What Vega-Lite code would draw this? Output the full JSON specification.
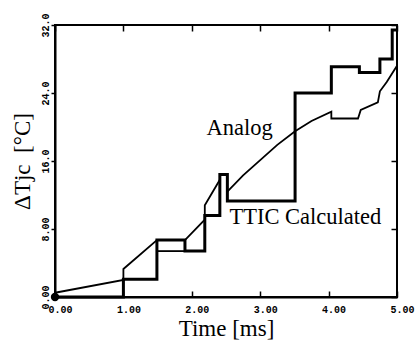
{
  "$schema": "https://vega.github.io/schema/vega-lite/v6.json",
  "width": 342,
  "height": 272,
  "autosize": "none",
  "padding": {"left": 55, "top": 25, "right": 19, "bottom": 51},
  "background": "white",
  "config": {
    "view": {"stroke": "black", "strokeWidth": 2},
    "axis": {
      "domainColor": "black", "domainWidth": 2, "tickColor": "black", "tickWidth": 1.5,
      "grid": false, "labelFont": "Liberation Mono", "labelFontWeight": "bold", "labelFontSize": 10,
      "labelColor": "black", "titleFont": "Liberation Serif", "titleFontWeight": "normal",
      "titleFontSize": 23, "titleColor": "black"
    }
  },
  "datasets": {
    "lines": [
      {"s": "TTIC", "seg": 1, "i": 1, "t": 0, "v": 0},
      {"s": "TTIC", "seg": 1, "i": 2, "t": 1.0, "v": 0},
      {"s": "TTIC", "seg": 1, "i": 3, "t": 1.0, "v": 2.1},
      {"s": "TTIC", "seg": 1, "i": 4, "t": 1.49, "v": 2.1},
      {"s": "TTIC", "seg": 1, "i": 5, "t": 1.49, "v": 6.7},
      {"s": "TTIC", "seg": 1, "i": 6, "t": 1.9, "v": 6.7},
      {"s": "TTIC", "seg": 1, "i": 7, "t": 1.9, "v": 5.4},
      {"s": "TTIC", "seg": 1, "i": 8, "t": 2.19, "v": 5.4},
      {"s": "TTIC", "seg": 1, "i": 9, "t": 2.19, "v": 9.6},
      {"s": "TTIC", "seg": 1, "i": 10, "t": 2.41, "v": 9.6},
      {"s": "TTIC", "seg": 1, "i": 11, "t": 2.41, "v": 14.4},
      {"s": "TTIC", "seg": 1, "i": 12, "t": 2.52, "v": 14.4},
      {"s": "TTIC", "seg": 1, "i": 13, "t": 2.52, "v": 11.3},
      {"s": "TTIC", "seg": 1, "i": 14, "t": 3.51, "v": 11.3},
      {"s": "TTIC", "seg": 1, "i": 15, "t": 3.51, "v": 24.0},
      {"s": "TTIC", "seg": 1, "i": 16, "t": 4.04, "v": 24.0},
      {"s": "TTIC", "seg": 1, "i": 17, "t": 4.04, "v": 27.1},
      {"s": "TTIC", "seg": 1, "i": 18, "t": 4.45, "v": 27.1},
      {"s": "TTIC", "seg": 1, "i": 19, "t": 4.45, "v": 26.4},
      {"s": "TTIC", "seg": 1, "i": 20, "t": 4.75, "v": 26.4},
      {"s": "TTIC", "seg": 1, "i": 21, "t": 4.75, "v": 28.0},
      {"s": "TTIC", "seg": 1, "i": 22, "t": 4.93, "v": 28.0},
      {"s": "TTIC", "seg": 1, "i": 23, "t": 4.93, "v": 31.4},
      {"s": "TTIC", "seg": 1, "i": 24, "t": 5.0, "v": 31.4},
      {"s": "Analog", "seg": 1, "i": 1, "t": 0, "v": 0.5},
      {"s": "Analog", "seg": 1, "i": 2, "t": 1.0, "v": 2.0},
      {"s": "Analog", "seg": 1, "i": 3, "t": 1.0, "v": 3.3},
      {"s": "Analog", "seg": 1, "i": 4, "t": 1.49, "v": 6.7},
      {"s": "Analog", "seg": 1, "i": 5, "t": 1.9, "v": 6.7},
      {"s": "Analog", "seg": 1, "i": 6, "t": 2.19, "v": 9.1},
      {"s": "Analog", "seg": 1, "i": 7, "t": 2.19, "v": 10.8},
      {"s": "Analog", "seg": 1, "i": 8, "t": 2.41, "v": 13.8},
      {"s": "Analog", "seg": 2, "i": 1, "t": 1.49, "v": 5.4},
      {"s": "Analog", "seg": 2, "i": 2, "t": 1.9, "v": 5.4},
      {"s": "Analog", "seg": 3, "i": 1, "t": 2.52, "v": 12.4},
      {"s": "Analog", "seg": 3, "i": 2, "t": 2.75, "v": 14.3},
      {"s": "Analog", "seg": 3, "i": 3, "t": 3.0, "v": 16.1},
      {"s": "Analog", "seg": 3, "i": 4, "t": 3.25, "v": 17.9},
      {"s": "Analog", "seg": 3, "i": 5, "t": 3.51, "v": 19.5},
      {"s": "Analog", "seg": 3, "i": 6, "t": 3.75, "v": 20.7},
      {"s": "Analog", "seg": 3, "i": 7, "t": 4.04, "v": 21.8},
      {"s": "Analog", "seg": 3, "i": 8, "t": 4.04, "v": 21.0},
      {"s": "Analog", "seg": 3, "i": 9, "t": 4.43, "v": 21.0},
      {"s": "Analog", "seg": 3, "i": 10, "t": 4.47, "v": 22.0},
      {"s": "Analog", "seg": 3, "i": 11, "t": 4.72, "v": 22.9},
      {"s": "Analog", "seg": 3, "i": 12, "t": 4.75, "v": 24.2},
      {"s": "Analog", "seg": 3, "i": 13, "t": 4.85, "v": 25.3},
      {"s": "Analog", "seg": 3, "i": 14, "t": 5.0, "v": 27.2}
    ],
    "labels": [
      {"t": 2.7, "v": 19.9, "label": "Analog"},
      {"t": 3.66, "v": 9.4, "label": "TTIC Calculated"}
    ],
    "origin": [{"t": 0, "v": 0}]
  },
  "resolve": {"axis": {"x": "independent", "y": "independent"}},
  "layer": [
    {
      "data": {"name": "lines"},
      "transform": [{"filter": "datum.s == 'TTIC'"}],
      "mark": {"type": "line", "color": "black", "strokeWidth": 3, "strokeJoin": "miter", "clip": false},
      "encoding": {
        "x": {"field": "t", "type": "quantitative", "scale": {"domain": [0, 5], "nice": false},
          "axis": {"orient": "bottom", "title": "Time [ms]", "values": [0, 1, 2, 3, 4, 5], "format": ".2f",
            "tickSize": -6, "labelPadding": 13, "labelFlush": false, "labelOffset": 5, "titlePadding": 3}},
        "y": {"field": "v", "type": "quantitative", "scale": {"domain": [0, 32], "nice": false, "zero": true},
          "axis": {"orient": "left", "title": "ΔTjc\u00a0\u00a0[°C]", "values": [0, 8, 16, 24, 32],
            "labelExpr": "datum.value < 10 ? format(datum.value, '.2f') : format(datum.value, '.1f')",
            "labelAngle": -90, "labelAlign": "center", "labelBaseline": "bottom", "labelFlush": false,
            "tickSize": 4, "labelPadding": 1, "titlePadding": 6}},
        "detail": {"field": "seg"},
        "order": {"field": "i"}
      }
    },
    {
      "data": {"name": "lines"},
      "transform": [{"filter": "datum.s == 'Analog'"}],
      "mark": {"type": "line", "color": "black", "strokeWidth": 1.8, "clip": false},
      "encoding": {
        "x": {"field": "t", "type": "quantitative", "axis": null},
        "y": {"field": "v", "type": "quantitative", "axis": null},
        "detail": {"field": "seg"},
        "order": {"field": "i"}
      }
    },
    {
      "data": {"name": "origin"},
      "mark": {"type": "point", "filled": true, "color": "black", "size": 70, "opacity": 1, "clip": false},
      "encoding": {
        "x": {"field": "t", "type": "quantitative", "axis": null},
        "y": {"field": "v", "type": "quantitative", "axis": null}
      }
    },
    {
      "data": {"name": "labels"},
      "mark": {"type": "text", "font": "Liberation Serif", "fontSize": 22.5, "color": "black", "align": "center", "baseline": "middle"},
      "encoding": {
        "x": {"field": "t", "type": "quantitative",
          "axis": {"orient": "top", "title": null, "labels": false, "domain": false, "tickSize": -6, "values": [0, 1, 2, 3, 4, 5]}},
        "y": {"field": "v", "type": "quantitative",
          "axis": {"orient": "right", "title": null, "labels": false, "domain": false, "tickSize": -6, "values": [0, 8, 16, 24, 32]}},
        "text": {"field": "label"}
      }
    }
  ]
}
